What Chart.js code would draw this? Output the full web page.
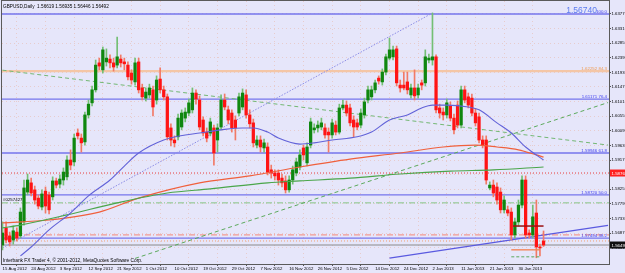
<!DOCTYPE html>
<html><head><meta charset="utf-8">
<script src="https://cdn.jsdelivr.net/npm/chart.js@4.4.1/dist/chart.umd.min.js"></script>
<style>html,body{margin:0;padding:0;background:#e6e6fa;}</style>
</head><body>
<canvas id="c" width="625" height="273"></canvas>
<script>
// ---------- data (GBPUSD Daily, bar index 0 = 15 Aug 2012) ----------
const xTickBars = [0,8,16,24,32,40,48,56,64,72,80,88,96,104,112,120,128,136,144];
const xTickLabels = ['15 Aug 2012','24 Aug 2012','3 Sep 2012','12 Sep 2012','21 Sep 2012','1 Oct 2012','10 Oct 2012','19 Oct 2012','29 Oct 2012','7 Nov 2012','16 Nov 2012','26 Nov 2012','5 Dec 2012','14 Dec 2012','24 Dec 2012','2 Jan 2013','11 Jan 2013','21 Jan 2013','30 Jan 2013'];
const yTickValues = [1.63770,1.63310,1.62850,1.62390,1.61930,1.61470,1.61010,1.60550,1.60090,1.59630,1.59170,1.58710,1.58250,1.57790,1.57330,1.56870,1.56410];

const opens = [1.5649,1.5703,1.5678,1.5665,1.5690,1.5678,1.5722,1.5816,1.5845,1.5823,
1.5797,1.5769,1.5819,1.5807,1.5801,1.5851,1.5841,1.5854,1.5864,1.5917,
1.5911,1.6002,1.5986,1.5974,1.6059,1.6097,1.6138,1.6223,1.6201,1.6226,
1.6235,1.6223,1.6216,1.6235,1.6226,1.6216,1.6191,1.6163,1.6226,1.6144,
1.6112,1.6122,1.6138,1.6106,1.6172,1.6138,1.6116,1.6018,1.5980,1.5990,
1.6021,1.6049,1.6065,1.6075,1.6128,1.6106,1.6043,1.6005,1.6002,1.6018,
1.5980,1.6021,1.6106,1.6075,1.6065,1.6043,1.6065,1.6084,1.6122,1.6059,
1.6034,1.5964,1.5980,1.5955,1.5958,1.5886,1.5876,1.5876,1.5860,1.5851,
1.5823,1.5854,1.5876,1.5895,1.5955,1.5908,1.5964,1.6012,1.6018,1.6021,
1.6018,1.6005,1.5996,1.6027,1.6005,1.6081,1.6090,1.6081,1.6043,1.6034,
1.6027,1.6059,1.6106,1.6116,1.6138,1.6175,1.6163,1.6194,1.6238,1.6242,
1.6267,1.6153,1.6153,1.6163,1.6122,1.6144,1.6122,1.6160,1.6160,1.6232,
1.6232,1.6242,1.6081,1.6068,1.6059,1.6087,1.6049,1.6090,1.6027,1.6138,
1.6116,1.6112,1.6065,1.6053,1.5980,1.5980,1.5829,1.5838,1.5832,1.5816,
1.5760,1.5760,1.5753,1.5681,1.5722,1.5775,1.5854,1.5687,1.5681,1.5750,
1.5643,1.56619];
const highs = [1.5722,1.5722,1.5690,1.5709,1.5703,1.5766,1.5854,1.5873,1.5860,1.5835,
1.5807,1.5823,1.5832,1.5816,1.5864,1.5860,1.5870,1.5892,1.5930,1.5949,
1.5999,1.6015,1.5999,1.6068,1.6106,1.6150,1.6232,1.6238,1.6273,1.6267,
1.6248,1.6238,1.6304,1.6248,1.6238,1.6226,1.6201,1.6238,1.6238,1.6156,
1.6144,1.6156,1.6150,1.6182,1.6207,1.6150,1.6125,1.6031,1.5993,1.6062,
1.6075,1.6081,1.6109,1.6144,1.6138,1.6119,1.6053,1.6018,1.6049,1.6027,
1.6031,1.6122,1.6125,1.6087,1.6075,1.6056,1.6128,1.6141,1.6138,1.6075,
1.6046,1.5993,1.5993,1.5983,1.5971,1.5901,1.5886,1.5886,1.5873,1.5867,
1.5867,1.5898,1.5923,1.5949,1.5964,1.5971,1.6049,1.6031,1.6040,1.6049,
1.6031,1.6018,1.6046,1.6040,1.6093,1.6106,1.6103,1.6093,1.6056,1.6046,
1.6078,1.6112,1.6150,1.6150,1.6169,1.6182,1.6204,1.6251,1.6301,1.6276,
1.6276,1.6169,1.6194,1.6194,1.6156,1.6201,1.6156,1.6169,1.6264,1.6251,
1.6380,1.6248,1.6093,1.6081,1.6109,1.6100,1.6062,1.6103,1.6150,1.6150,
1.6128,1.6125,1.6078,1.6065,1.5993,1.5993,1.5848,1.5854,1.5845,1.5829,
1.5804,1.5772,1.5766,1.5734,1.5791,1.5867,1.5867,1.5697,1.5775,1.5791,
1.5652,1.56935];
const lows = [1.5634,1.5656,1.5646,1.5652,1.5662,1.5671,1.5712,1.5807,1.5804,1.5778,
1.5763,1.5760,1.5750,1.5747,1.5791,1.5829,1.5829,1.5838,1.5854,1.5886,
1.5898,1.5983,1.5942,1.5964,1.6049,1.6087,1.6131,1.6201,1.6191,1.6213,
1.6207,1.6197,1.6207,1.6210,1.6201,1.6169,1.6156,1.6153,1.6128,1.6106,
1.6103,1.6112,1.6056,1.6093,1.6128,1.6106,1.5980,1.5961,1.5958,1.5980,
1.6012,1.6037,1.6056,1.6065,1.6093,1.6012,1.5993,1.5974,1.5993,1.5901,
1.5942,1.6012,1.6075,1.6031,1.6005,1.5980,1.6056,1.6075,1.6049,1.6018,
1.5958,1.5955,1.5942,1.5942,1.5870,1.5860,1.5854,1.5838,1.5832,1.5813,
1.5816,1.5841,1.5867,1.5886,1.5917,1.5898,1.5955,1.6002,1.6005,1.6012,
1.5986,1.5942,1.5986,1.5996,1.5999,1.6075,1.6056,1.6024,1.5990,1.6012,
1.6018,1.6049,1.6097,1.6106,1.6128,1.6156,1.6153,1.6185,1.6232,1.6232,
1.6150,1.6131,1.6138,1.6125,1.6112,1.6106,1.6112,1.6138,1.6150,1.6223,
1.6216,1.6065,1.6049,1.6043,1.6049,1.6040,1.5999,1.6018,1.6018,1.6097,
1.6081,1.6056,1.6024,1.5971,1.5955,1.5841,1.5823,1.5801,1.5778,1.5750,
1.5750,1.5741,1.5665,1.5671,1.5709,1.5766,1.5671,1.5671,1.5671,1.5609,
1.5615,1.56446];
const closes = [1.5687,1.5665,1.5659,1.5694,1.5671,1.5753,1.5829,1.5854,1.5813,1.5791,
1.5772,1.5810,1.5772,1.5760,1.5851,1.5838,1.5857,1.5879,1.5917,1.5901,
1.5986,1.5993,1.5971,1.6059,1.6093,1.6138,1.6216,1.6213,1.6264,1.6238,
1.6223,1.6210,1.6242,1.6223,1.6220,1.6179,1.6169,1.6223,1.6138,1.6116,
1.6131,1.6144,1.6084,1.6169,1.6138,1.6116,1.5990,1.5980,1.5971,1.6049,
1.6065,1.6068,1.6097,1.6128,1.6109,1.6021,1.6002,1.5986,1.6037,1.5939,
1.6018,1.6106,1.6084,1.6043,1.6018,1.6018,1.6116,1.6128,1.6059,1.6031,
1.5971,1.5980,1.5958,1.5971,1.5879,1.5876,1.5867,1.5854,1.5845,1.5823,
1.5854,1.5886,1.5911,1.5933,1.5933,1.5958,1.6037,1.6018,1.6027,1.6034,
1.5996,1.5996,1.6034,1.6005,1.6081,1.6090,1.6065,1.6034,1.6021,1.6021,
1.6065,1.6100,1.6138,1.6138,1.6160,1.6166,1.6194,1.6242,1.6264,1.6264,
1.6160,1.6144,1.6144,1.6138,1.6144,1.6119,1.6144,1.6153,1.6242,1.6238,
1.6242,1.6075,1.6065,1.6059,1.6097,1.6049,1.6012,1.6027,1.6138,1.6106,
1.6090,1.6065,1.6034,1.5980,1.5964,1.5854,1.5838,1.5813,1.5791,1.5760,
1.5791,1.5750,1.5681,1.5722,1.5775,1.5854,1.5681,1.5681,1.5738,1.5643,
1.5640,1.56492];

// moving averages (sampled at bar indices)
const blueMABars = [5,8,13,19,24,30,34,38,45,51,55,61,67,70,74,77,83,87,92,99,103,108,113,117,120,124,130,133,138,142,146,151];
const blueMAVals = [1.5615,1.5643,1.5697,1.5750,1.5804,1.5854,1.5898,1.5939,1.5980,1.5996,1.6002,1.6012,1.6018,1.6018,1.6005,1.5986,1.5967,1.5971,1.5980,1.5990,1.6005,1.6043,1.6059,1.6081,1.6090,1.6090,1.6084,1.6075,1.6034,1.6002,1.5958,1.5917];
const redMABars = [0,13,27,38,55,69,83,97,111,123,132,138,144,149,151];
const redMAVals = [1.5719,1.5728,1.5753,1.5797,1.5845,1.5867,1.5895,1.5920,1.5939,1.5958,1.5964,1.5958,1.5949,1.5933,1.5926];
const greenMABars = [0,5,18,32,46,58,74,83,97,111,125,137,151];
const greenMAVals = [1.5703,1.5712,1.5744,1.5782,1.5813,1.5826,1.5845,1.5851,1.5860,1.5873,1.5882,1.5886,1.5895];

// horizontal levels
const fibLevels = [1.6377,1.6109,1.5939,1.5807,1.5671];
const fibTexts  = ['100.0','1.61171 76.4','1.59946 61.8','1.58720 50.0','1.57494 38.2'];
const orangeLevel = 1.6197, orangeText = '1.62252 84.3';
const redDotLevel = 1.5876;
const greenDashDotLevel = 1.5782;
const pinkLevel = 1.5681;
const orangeDotLevel = 1.5662;
const closeLevel = 1.56492;

// trend lines / objects (bar index, price)
const blueDotBars = [0,120],   blueDotVals = [1.5640,1.6380];
const greenDownBars = [0,169], greenDownVals = [1.6200,1.5964];
const greenUpBars = [37,169],  greenUpVals = [1.5607,1.6098];
const blueUpBars = [108,169],  blueUpVals = [1.5608,1.5711];
const darkRedBars = [142.5,151], darkRedVal = 1.5709;
const orangeSegBars = [142,150], orangeSegVal = 1.5634;
const greenSegBars = [142,150],  greenSegVal = 1.5612;

const headerText = 'GBPUSD,Daily  1.56619 1.56935 1.56446 1.56492';
const copyText = 'Interbank FX Trader 4, \u00A9 2001-2012, MetaQuotes Software Corp.';
const bigText = '1.56740';
const leftTag = '#0257427';

// ---------- chart ----------
const X_MIN = -0.14, X_MAX = 169.27, Y_MIN = 1.55894, Y_MAX = 1.64179;
const FONT = '"Liberation Sans", Arial, sans-serif';
const isBull = i => closes[i] >= opens[i];
const pts = (bars, vals) => bars.map((b, i) => ({x: b, y: vals[i]}));
const hline = (v) => [{x: X_MIN, y: v}, {x: X_MAX, y: v}];
const seg = (bars, v) => [{x: bars[0], y: v}, {x: bars[1], y: v}];

const lineDs = (data, color, width, dash, order, extra) => Object.assign({
  type: 'line', data, borderColor: color, borderWidth: width, borderDash: dash || [],
  pointRadius: 0, fill: false, tension: 0, order
}, extra || {});

const datasets = [
  // horizontal levels
  ...fibLevels.map(v => lineDs(hline(v), '#7474ec', 1.3, [], 20)),
  lineDs(hline(orangeLevel), '#f4c6a6', 2.2, [], 20),
  lineDs(hline(redDotLevel), '#e83a3a', 1, [1, 2], 20),
  lineDs(hline(greenDashDotLevel), '#86c486', 1, [6, 2, 1, 2], 20),
  lineDs(hline(pinkLevel), '#f29a92', 1.4, [6, 2, 1, 2], 20),
  lineDs(hline(orangeDotLevel), '#f0a070', 1, [1, 2], 20),
  lineDs(hline(closeLevel), '#8a8a8a', 1, [], 20),
  // trend lines
  lineDs(pts(blueDotBars, blueDotVals), '#8c8ce6', 1, [1.5, 1.5], 19),
  lineDs(pts(greenDownBars, greenDownVals), '#74b874', 1, [4, 3], 19),
  lineDs(pts(greenUpBars, greenUpVals), '#5caa5c', 1, [4, 3], 19),
  lineDs(pts(blueUpBars, blueUpVals), '#5a5ae0', 1.2, [], 19),
  lineDs(seg(darkRedBars, darkRedVal), '#9a1010', 1.5, [], 3),
  lineDs(seg(orangeSegBars, orangeSegVal), '#f48050', 1.3, [], 3),
  lineDs(seg(greenSegBars, greenSegVal), '#5caa5c', 1, [3, 2], 3),
  // candles
  {
    type: 'bar', order: 6, grouped: false, barThickness: 1,
    data: opens.map((o, i) => ({x: i, y: [lows[i], highs[i]]})),
    backgroundColor: c => isBull(c.dataIndex) ? '#74bf74' : '#f27a66', borderWidth: 0
  },
  {
    type: 'bar', order: 5, grouped: false, barThickness: 2.6, minBarLength: 1,
    data: opens.map((o, i) => ({x: i, y: [o, closes[i]]})),
    backgroundColor: c => isBull(c.dataIndex) ? '#0f870f' : '#ff1414', borderWidth: 0
  },
  // moving averages
  lineDs(pts(greenMABars, greenMAVals), '#4aa64a', 1.2, [], 2, {cubicInterpolationMode: 'monotone'}),
  lineDs(pts(redMABars, redMAVals), '#f0603c', 1.2, [], 2, {cubicInterpolationMode: 'monotone'}),
  lineDs(pts(blueMABars, blueMAVals), '#6262d8', 1.1, [], 1, {cubicInterpolationMode: 'monotone'})
];

const overlay = {
  id: 'overlay',
  beforeDraw(chart) {
    const c = chart.ctx; c.save(); c.fillStyle = '#e6e6fa'; c.fillRect(0, 0, chart.width, chart.height); c.restore();
  },
  afterDraw(chart) {
    const {ctx, chartArea: a, scales: {y}} = chart;
    ctx.save();
    ctx.strokeStyle = '#5a5a5a'; ctx.lineWidth = 1;
    ctx.strokeRect(a.left - 0.5, a.top - 0.5, a.right - a.left + 1, a.bottom - a.top + 1);
    ctx.fillStyle = '#000'; ctx.textAlign = 'left'; ctx.textBaseline = 'alphabetic';
    ctx.font = '4.7px ' + FONT;
    ctx.fillText(headerText, a.left + 1, a.top + 6.5);
    ctx.font = '4.8px ' + FONT;
    ctx.fillText(copyText, a.left + 1, a.bottom - 2);
    ctx.font = '4.4px ' + FONT;
    ctx.fillText(leftTag, a.left + 1, y.getPixelForValue(greenDashDotLevel) - 2);
    // level labels
    ctx.textAlign = 'right';
    ctx.fillStyle = '#3c3cf0';
    fibLevels.forEach((v, i) => ctx.fillText(fibTexts[i], a.right - 2, y.getPixelForValue(v) - 1.2));
    ctx.fillStyle = '#f09a50';
    ctx.fillText(orangeText, a.right - 2, y.getPixelForValue(orangeLevel) - 1.5);
    ctx.fillStyle = '#5c7cf0';
    ctx.font = '8.5px ' + FONT;
    ctx.fillText(bigText, a.right - 12, y.getPixelForValue(fibLevels[0]) - 0.5);
    // price boxes on the axis
    ctx.textAlign = 'left';
    ctx.font = '4.4px ' + FONT;
    const box = (v, bg, txt) => {
      const py = y.getPixelForValue(v);
      ctx.fillStyle = bg; ctx.fillRect(a.right + 1, py - 3.5, 20, 7);
      ctx.fillStyle = '#fff'; ctx.fillText(txt, a.right + 2.5, py + 1.6);
    };
    box(redDotLevel, '#ff2020', redDotLevel.toFixed(5));
    box(closeLevel, '#101010', closeLevel.toFixed(5));
    ctx.restore();
  }
};

new Chart(document.getElementById('c'), {
  type: 'bar',
  data: {datasets},
  plugins: [overlay],
  options: {
    responsive: false, animation: false, devicePixelRatio: 1,
    layout: {padding: {left: 2, top: 1, right: 0, bottom: 0}},
    plugins: {legend: {display: false}, tooltip: {enabled: false}},
    scales: {
      x: {
        type: 'linear', min: X_MIN, max: X_MAX, offset: false,
        afterBuildTicks: s => { s.ticks = xTickBars.map(v => ({value: v})); },
        afterFit: s => { s.height = 9; s.paddingLeft = 0; s.paddingRight = 0; },
        ticks: {
          autoSkip: false, maxRotation: 0, minRotation: 0, align: 'start', padding: 0,
          color: '#000', font: {family: FONT, size: 4.3},
          callback: v => { const k = xTickBars.indexOf(v); return k >= 0 ? xTickLabels[k] : ''; }
        },
        grid: {color: 'rgba(232,172,150,0.45)', tickColor: '#555', tickLength: 2, lineWidth: 1},
        border: {display: true, color: '#5a5a5a', dash: [1, 3]}
      },
      y: {
        position: 'right', min: Y_MIN, max: Y_MAX,
        afterBuildTicks: s => { s.ticks = yTickValues.map(v => ({value: v})); },
        afterFit: s => { s.width = 16; s.paddingTop = 0; s.paddingBottom = 0; },
        ticks: {
          autoSkip: false, padding: 0.5, color: '#000', font: {family: FONT, size: 4.3},
          callback: v => Number(v).toFixed(5)
        },
        grid: {color: 'rgba(232,172,150,0.45)', tickColor: '#555', tickLength: 2, lineWidth: 1},
        border: {display: true, color: '#5a5a5a', dash: [1, 3]}
      }
    }
  }
});
</script>
</body></html>
